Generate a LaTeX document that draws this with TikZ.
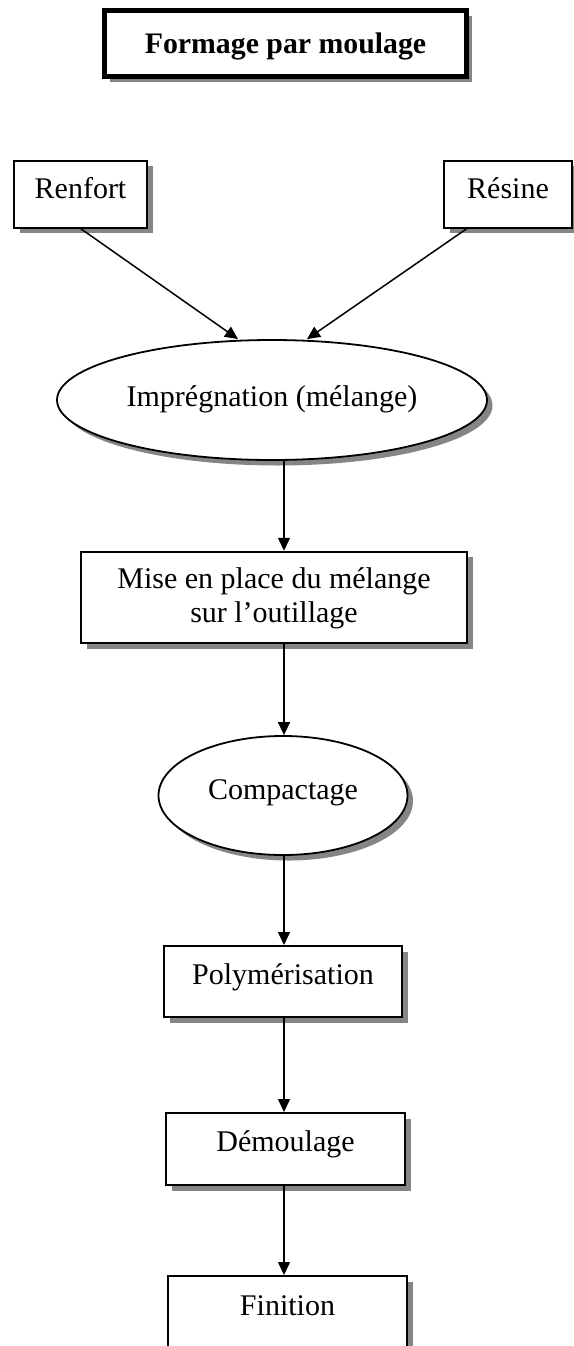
\documentclass[tikz,border=0pt]{standalone}
\usepackage{fontspec}
\setmainfont{Liberation Serif}
\usetikzlibrary{shapes.geometric,shadows,arrows.meta}
\begin{document}
\begin{tikzpicture}[x=1pt,y=-1pt,
  font=\fontsize{30}{34}\selectfont,
  boxshadow/.style={general shadow={fill=black!48, shadow xshift=5.5pt, shadow yshift=-5.5pt}},
  stepbox/.style={rectangle, draw=black, line width=2pt, fill=white, inner sep=0pt,
    boxshadow, text height=21pt, text depth=16pt},
  stepoval/.style={ellipse, draw=black, line width=1.8pt, fill=white, inner sep=0pt, boxshadow},
  flow/.style={line width=1.5pt, -{Triangle[length=13pt,width=12pt]}},
]
% page area
\path[use as bounding box, fill=white] (0,0) rectangle (573,1346);

% title
\node[stepbox, line width=4.5pt, minimum width=362pt, minimum height=66pt,
  font=\fontsize{29.8}{35}\selectfont\bfseries, text height=22pt, text depth=3pt]
  (title) at (285.5,43.5) {Formage par moulage};

% raw materials
\node[stepbox, minimum width=133pt, minimum height=67pt, text height=21pt, text depth=12.4pt]
  (renf) at (80.5,194) {Renfort};
\node[stepbox, minimum width=128pt, minimum height=67pt, text height=21pt, text depth=12.4pt]
  (res) at (508,194) {Résine};

% process steps
\node[stepoval, minimum width=430pt, minimum height=120pt, text height=21pt, text depth=9pt]
  (imp) at (272,400) {Imprégnation (mélange)};
\node[stepbox, minimum width=386pt, minimum height=91.5pt, text height=0pt, text depth=0pt]
  (mise) at (274,597.5)
  {\raisebox{9.5pt}[0pt][0pt]{\begin{tabular}[t]{@{}c@{}}Mise en place du mélange\\sur l’outillage\end{tabular}}};
\node[stepoval, minimum width=249pt, minimum height=119pt, text height=21pt, text depth=14pt]
  (comp) at (283,795.5) {Compactage};
\node[stepbox, minimum width=238pt, minimum height=71pt] (poly) at (283,981.5) {Polymérisation};
\node[stepbox, minimum width=239pt, minimum height=72pt] (dem) at (285.5,1149) {Démoulage};
\node[stepbox, minimum width=239pt, minimum height=73pt] (fin) at (287.5,1312.5) {Finition};

% connectors
\coordinate (spine) at (284,0);
\draw[flow] (renf.south) -- ([xshift=-34pt]imp.north);
\draw[flow] ([xshift=24pt]res.south west) -- ([xshift=35pt]imp.north);
\draw[flow] (imp.south -| spine) -- (mise.north -| spine);
\draw[flow] (mise.south -| spine) -- (comp.north -| spine);
\draw[flow] (comp.south -| spine) -- (poly.north -| spine);
\draw[flow] (poly.south -| spine) -- (dem.north -| spine);
\draw[flow] (dem.south -| spine) -- (fin.north -| spine);
\end{tikzpicture}
\end{document}
